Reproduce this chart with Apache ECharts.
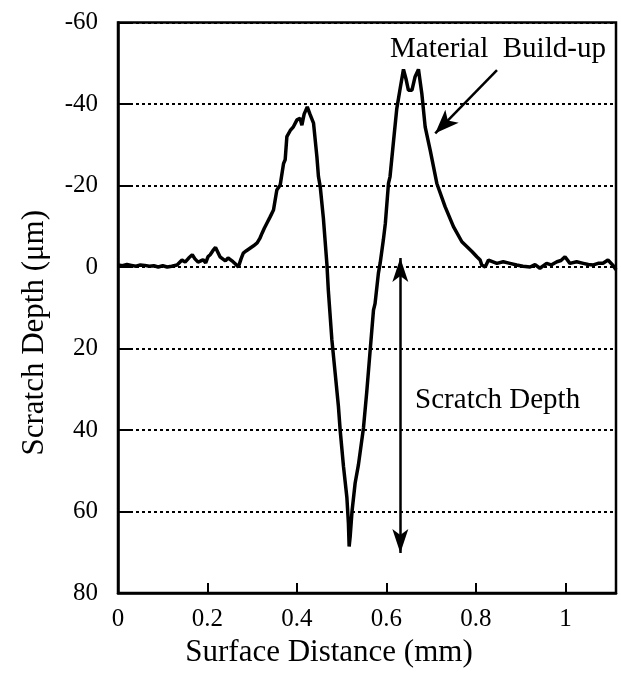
<!DOCTYPE html>
<html>
<head>
<meta charset="utf-8">
<script src="https://cdn.jsdelivr.net/npm/echarts@6/dist/echarts.min.js"></script>
<style>
html,body{margin:0;padding:0;background:#fff;}
#chart{width:621px;height:683px;}
</style>
</head>
<body>
<div id="chart"></div>
<script>
// Surface distance (mm)
var distance = [
  0.000,0.010,0.020,0.030,0.040,0.050,0.060,0.070,0.080,0.090,0.100,0.110,0.120,0.132,0.143,0.150,0.158,0.166,0.172,0.179,
  0.185,0.190,0.196,0.201,0.206,0.212,0.218,0.222,0.228,0.234,0.240,0.246,0.251,0.257,0.262,0.266,0.269,0.275,0.280,0.287,
  0.295,0.303,0.311,0.317,0.322,0.327,0.333,0.340,0.3475,0.355,0.3625,0.370,0.3736,0.3774,0.385,0.392,0.400,0.407,0.411,0.416,
  0.423,0.429,0.437,0.4445,0.448,0.452,0.459,0.467,0.470,0.478,0.4854,0.4927,0.4965,0.504,0.5115,0.515,0.5166,0.519,0.523,0.530,
  0.5374,0.5486,0.556,0.5636,0.571,0.5745,0.582,0.586,0.593,0.5975,0.6045,0.608,0.6157,0.623,0.6306,0.638,0.644,0.649,0.657,0.664,
  0.6715,0.679,0.6865,0.6977,0.7126,0.731,0.7497,0.7685,0.791,0.802,0.8094,0.813,0.8206,0.828,0.8467,0.861,0.876,0.891,0.905,0.921,
  0.932,0.943,0.958,0.968,0.981,0.990,0.999,1.010,1.025,1.040,1.051,1.0625,1.073,1.084,1.095,1.107,1.113
];
// Scratch depth (µm), negative = material build-up
var depth = [
  -0.5,-0.3,-0.6,-0.4,-0.2,-0.5,-0.4,-0.2,-0.3,0.0,-0.3,0.0,-0.2,-0.5,-1.7,-1.2,-2.2,-3.0,-2.0,-1.2,
  -1.5,-1.8,-1.0,-2.5,-3.0,-4.0,-4.8,-5.0,-2.5,-2.0,-1.5,-2.2,-1.8,-1.3,-0.8,-1.0,0.0,-2.0,-3.4,-4.0,
  -4.6,-5.2,-5.9,-7.0,-8.3,-9.5,-10.8,-12.3,-14.0,-18.9,-20.1,-25.4,-26.3,-32.0,-33.5,-34.4,-36.1,-36.5,-34.8,-37.5,
  -39.3,-37.5,-35.3,-27.1,-22.2,-19.7,-12.0,-0.5,5.6,17.9,26.1,34.3,40.0,49.0,56.5,63.0,68.6,66.0,60.0,53.0,
  48.5,39.5,30.6,20.4,10.6,9.0,1.5,-1.0,-6.6,-10.7,-20.5,-22.2,-30.8,-38.8,-43.8,-48.5,-46.0,-43.4,-43.4,-46.7,
  -48.5,-42.6,-34.4,-28.7,-20.5,-14.8,-9.9,-6.2,-3.8,-2.5,-1.7,-0.5,0.0,-1.7,-0.9,-1.3,-0.9,-0.5,-0.2,0.0,
  -0.6,0.3,-0.9,-0.5,-1.3,-1.6,-2.5,-0.9,-1.3,-0.9,-0.6,-0.5,-0.9,-0.9,-1.7,-0.3,0.7
];
var yTicks = [-60,-40,-20,0,20,40,60,80];
var xTicks = [0,0.2,0.4,0.6,0.8,1];
var annotations = {
  buildupText: 'Material  Build-up',
  depthText: 'Scratch Depth'
};

var FONT = '"Liberation Serif", "Times New Roman", Times, serif';
var pts = distance.map(function(d,i){ return [d, depth[i]]; });

var chart = echarts.init(document.getElementById('chart'));
chart.setOption({
  animation: false,
  backgroundColor: '#fff',
  grid: { left: 118, right: 5, top: 22.5, bottom: 90, show: true, borderColor: '#000', borderWidth: 2.5, backgroundColor: 'transparent' },
  xAxis: {
    type: 'value', min: 0, max: 1.113, interval: 0.2,
    name: 'Surface Distance (mm)', nameLocation: 'middle', nameGap: 44,
    nameTextStyle: { fontFamily: FONT, fontSize: 31, color: '#000', padding: [0, 76, 0, 0] },
    axisLine: { show: true, onZero: false, lineStyle: { color: '#000', width: 2.5 } },
    axisTick: { show: true, inside: true, length: 10, lineStyle: { color: '#000', width: 2 } },
    axisLabel: { fontFamily: FONT, fontSize: 25, color: '#000', margin: 14, showMaxLabel: false,
      formatter: function(v){ return xTicks.indexOf(Math.round(v*10)/10) >= 0 ? String(Math.round(v*10)/10) : ''; } },
    splitLine: { show: false }
  },
  yAxis: {
    type: 'value', min: -60, max: 80, interval: 20, inverse: true,
    name: 'Scratch Depth (μm)', nameLocation: 'middle', nameGap: 68,
    nameTextStyle: { fontFamily: FONT, fontSize: 31, color: '#000', padding: [0, 50, 0, 0] },
    axisLine: { show: true, onZero: false, lineStyle: { color: '#000', width: 2.5 } },
    axisTick: { show: true, inside: true, length: 12, lineStyle: { color: '#000', width: 2 } },
    axisLabel: { fontFamily: FONT, fontSize: 25, color: '#000', margin: 20,
      formatter: function(v){ return yTicks.indexOf(v) >= 0 ? String(v) : ''; } },
    splitLine: { show: true, lineStyle: { color: '#000', width: 2, type: [3, 3] } }
  },
  series: [{
    type: 'line',
    data: pts,
    showSymbol: false,
    lineStyle: { color: '#000', width: 3.5 },
    z: 5,
    markLine: {
      silent: true,
      animation: false,
      label: { show: false },
      lineStyle: { color: '#000', width: 2.5, type: 'solid' },
      data: [
        [ { coord: [0.631, -2.2], symbol: 'arrow', symbolSize: [12, 24] },
          { coord: [0.631, 70.2], symbol: 'arrow', symbolSize: [12, 24] } ],
        [ { coord: [0.847, -48.3], symbol: 'none' },
          { coord: [0.709, -32.8], symbol: 'arrow', symbolSize: [14, 24] } ]
      ]
    }
  }]
});

function placeText(){
  var p1 = chart.convertToPixel({gridIndex: 0}, [0.608, -52.8]);
  var p2 = chart.convertToPixel({gridIndex: 0}, [0.664, 33.4]);
  chart.setOption({
    graphic: [
      { type: 'text', left: p1[0], top: p1[1] - 17, z: 10,
        style: { text: annotations.buildupText, font: '29px ' + FONT, fill: '#000' } },
      { type: 'text', left: p2[0], top: p2[1] - 17, z: 10,
        style: { text: annotations.depthText, font: '29px ' + FONT, fill: '#000' } }
    ]
  });
}
placeText();
</script>
</body>
</html>
